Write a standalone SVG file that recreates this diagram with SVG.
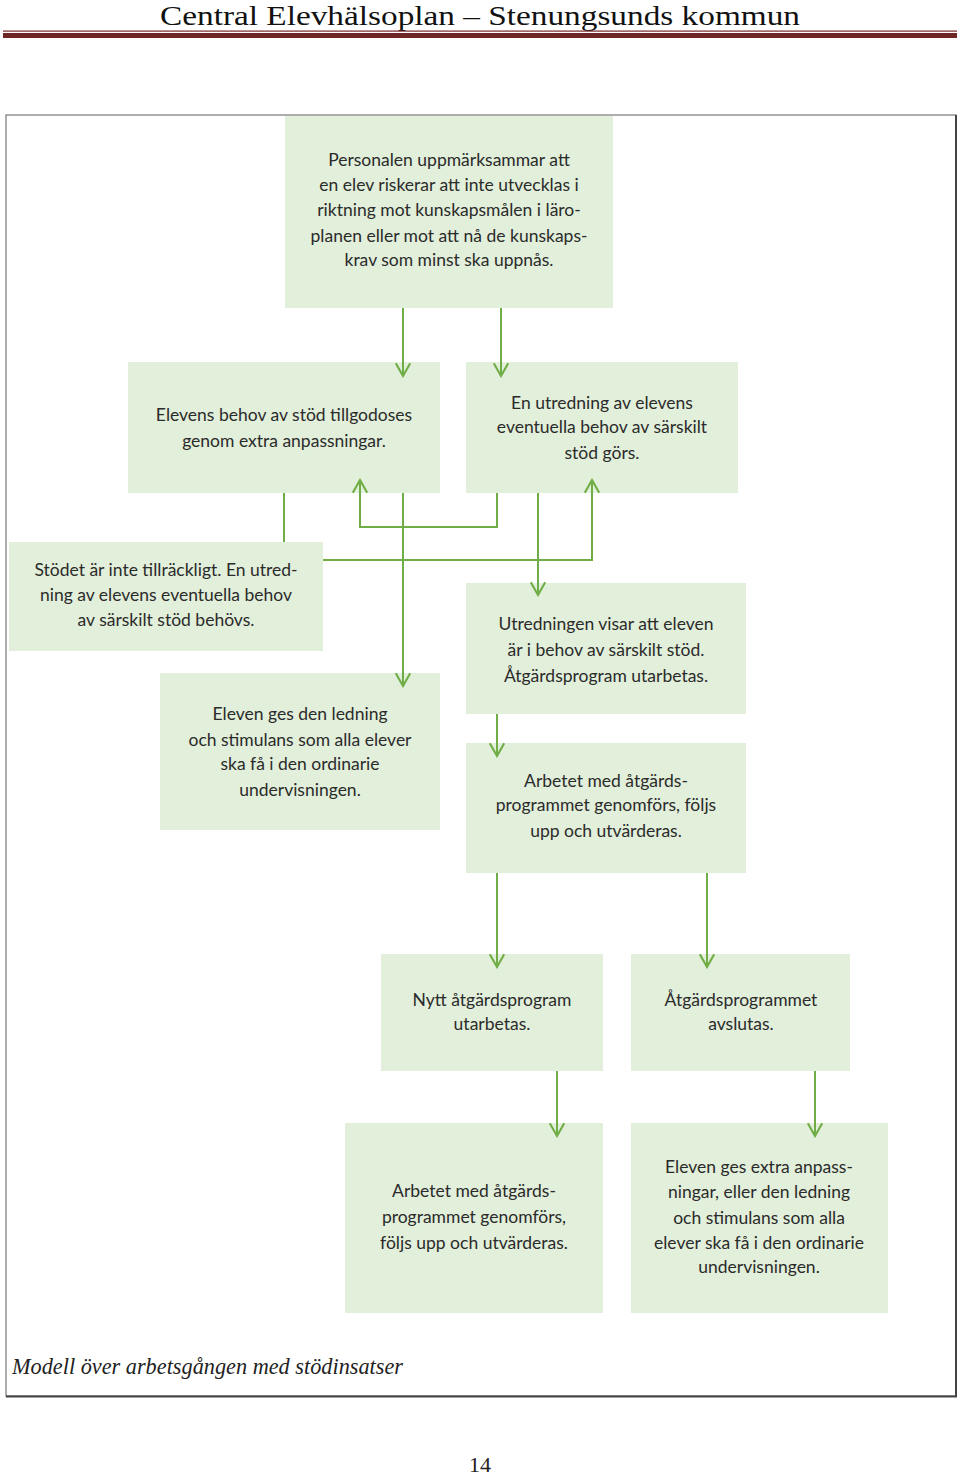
<svg xmlns="http://www.w3.org/2000/svg" width="960" height="1476" viewBox="0 0 960 1476">
<style>
.box{fill:#e2efda}
.t{font-family:Lato,"Noto Sans","Liberation Sans",sans-serif;font-size:17.5px;fill:#2b2b2b;text-anchor:middle}
.c{fill:none;stroke:#70ad47;stroke-width:2}
</style>
<defs>
<marker id="a" viewBox="0 0 10 10" refX="9" refY="5" markerWidth="16" markerHeight="16" markerUnits="userSpaceOnUse" orient="auto">
<path d="M1,0.5 L9,5 L1,9.5" fill="none" stroke="#70ad47" stroke-width="1.3"/>
</marker>
</defs>
<rect width="960" height="1476" fill="#fff"/>
<text x="480" y="25" font-family="'Liberation Serif',serif" font-size="27" text-anchor="middle" textLength="640" lengthAdjust="spacingAndGlyphs" fill="#111">Central Elevhälsoplan – Stenungsunds kommun</text>
<rect x="3" y="30.5" width="954" height="1.2" fill="#7a2a2a"/>
<rect x="3" y="33" width="954" height="5" fill="#6e2525"/>
<rect x="6" y="115" width="950" height="1281" fill="none" stroke="#777" stroke-width="1.2"/>
<line x1="956" y1="115" x2="956" y2="1397" stroke="#444" stroke-width="2"/>
<line x1="6" y1="1396.5" x2="957" y2="1396.5" stroke="#444" stroke-width="2"/>
<g id="n1"><rect class="box" x="285" y="116" width="328" height="192"/>
<text class="t"><tspan x="449" y="166">Personalen uppmärksammar att</tspan><tspan x="449" y="191">en elev riskerar att inte utvecklas i</tspan><tspan x="449" y="216">riktning mot kunskapsmålen i läro-</tspan><tspan x="449" y="242">planen eller mot att nå de kunskaps-</tspan><tspan x="449" y="266">krav som minst ska uppnås.</tspan></text></g>
<g id="n2"><rect class="box" x="128" y="362" width="312" height="131"/>
<text class="t"><tspan x="284" y="421">Elevens behov av stöd tillgodoses</tspan><tspan x="284" y="447">genom extra anpassningar.</tspan></text></g>
<g id="n3"><rect class="box" x="466" y="362" width="272" height="131"/>
<text class="t"><tspan x="602" y="409">En utredning av elevens</tspan><tspan x="602" y="433">eventuella behov av särskilt</tspan><tspan x="602" y="459">stöd görs.</tspan></text></g>
<g id="n4"><rect class="box" x="9" y="542" width="314" height="109"/>
<text class="t"><tspan x="166" y="576">Stödet är inte tillräckligt. En utred-</tspan><tspan x="166" y="601">ning av elevens eventuella behov</tspan><tspan x="166" y="626">av särskilt stöd behövs.</tspan></text></g>
<g id="n5"><rect class="box" x="466" y="583" width="280" height="131"/>
<text class="t"><tspan x="606" y="630">Utredningen visar att eleven</tspan><tspan x="606" y="656">är i behov av särskilt stöd.</tspan><tspan x="606" y="682">Åtgärdsprogram utarbetas.</tspan></text></g>
<g id="n6"><rect class="box" x="160" y="673" width="280" height="157"/>
<text class="t"><tspan x="300" y="720">Eleven ges den ledning</tspan><tspan x="300" y="746">och stimulans som alla elever</tspan><tspan x="300" y="770">ska få i den ordinarie</tspan><tspan x="300" y="796">undervisningen.</tspan></text></g>
<g id="n7"><rect class="box" x="466" y="743" width="280" height="130"/>
<text class="t"><tspan x="606" y="787">Arbetet med åtgärds-</tspan><tspan x="606" y="811">programmet genomförs, följs</tspan><tspan x="606" y="837">upp och utvärderas.</tspan></text></g>
<g id="n8"><rect class="box" x="381" y="954" width="222" height="117"/>
<text class="t"><tspan x="492" y="1006">Nytt åtgärdsprogram</tspan><tspan x="492" y="1030">utarbetas.</tspan></text></g>
<g id="n9"><rect class="box" x="631" y="954" width="219" height="117"/>
<text class="t"><tspan x="741" y="1006">Åtgärdsprogrammet</tspan><tspan x="741" y="1030">avslutas.</tspan></text></g>
<g id="n10"><rect class="box" x="345" y="1123" width="258" height="190"/>
<text class="t"><tspan x="474" y="1197">Arbetet med åtgärds-</tspan><tspan x="474" y="1223">programmet genomförs,</tspan><tspan x="474" y="1249">följs upp och utvärderas.</tspan></text></g>
<g id="n11"><rect class="box" x="631" y="1123" width="257" height="190"/>
<text class="t"><tspan x="759" y="1173">Eleven ges extra anpass-</tspan><tspan x="759" y="1198">ningar, eller den ledning</tspan><tspan x="759" y="1224">och stimulans som alla</tspan><tspan x="759" y="1249">elever ska få i den ordinarie</tspan><tspan x="759" y="1273">undervisningen.</tspan></text></g>
<g id="connectors">
<path class="c" d="M403,308 V376" marker-end="url(#a)"/>
<path class="c" d="M501,308 V376" marker-end="url(#a)"/>
<path class="c" d="M284,493 V542"/>
<path class="c" d="M497,493 V527 H360 V480" marker-end="url(#a)"/>
<path class="c" d="M403,493 V686" marker-end="url(#a)"/>
<path class="c" d="M323,560 H592 V480" marker-end="url(#a)"/>
<path class="c" d="M538,493 V595" marker-end="url(#a)"/>
<path class="c" d="M497,714 V756" marker-end="url(#a)"/>
<path class="c" d="M497,873 V967" marker-end="url(#a)"/>
<path class="c" d="M707,873 V967" marker-end="url(#a)"/>
<path class="c" d="M557,1071 V1136" marker-end="url(#a)"/>
<path class="c" d="M815,1071 V1136" marker-end="url(#a)"/>
</g>
<text x="12" y="1374" font-family="'Liberation Serif',serif" font-style="italic" font-size="23" textLength="391" lengthAdjust="spacingAndGlyphs" fill="#222">Modell över arbetsgången med stödinsatser</text>
<text x="480" y="1472" font-family="'Liberation Serif',serif" font-size="22" text-anchor="middle" fill="#222">14</text>
</svg>
